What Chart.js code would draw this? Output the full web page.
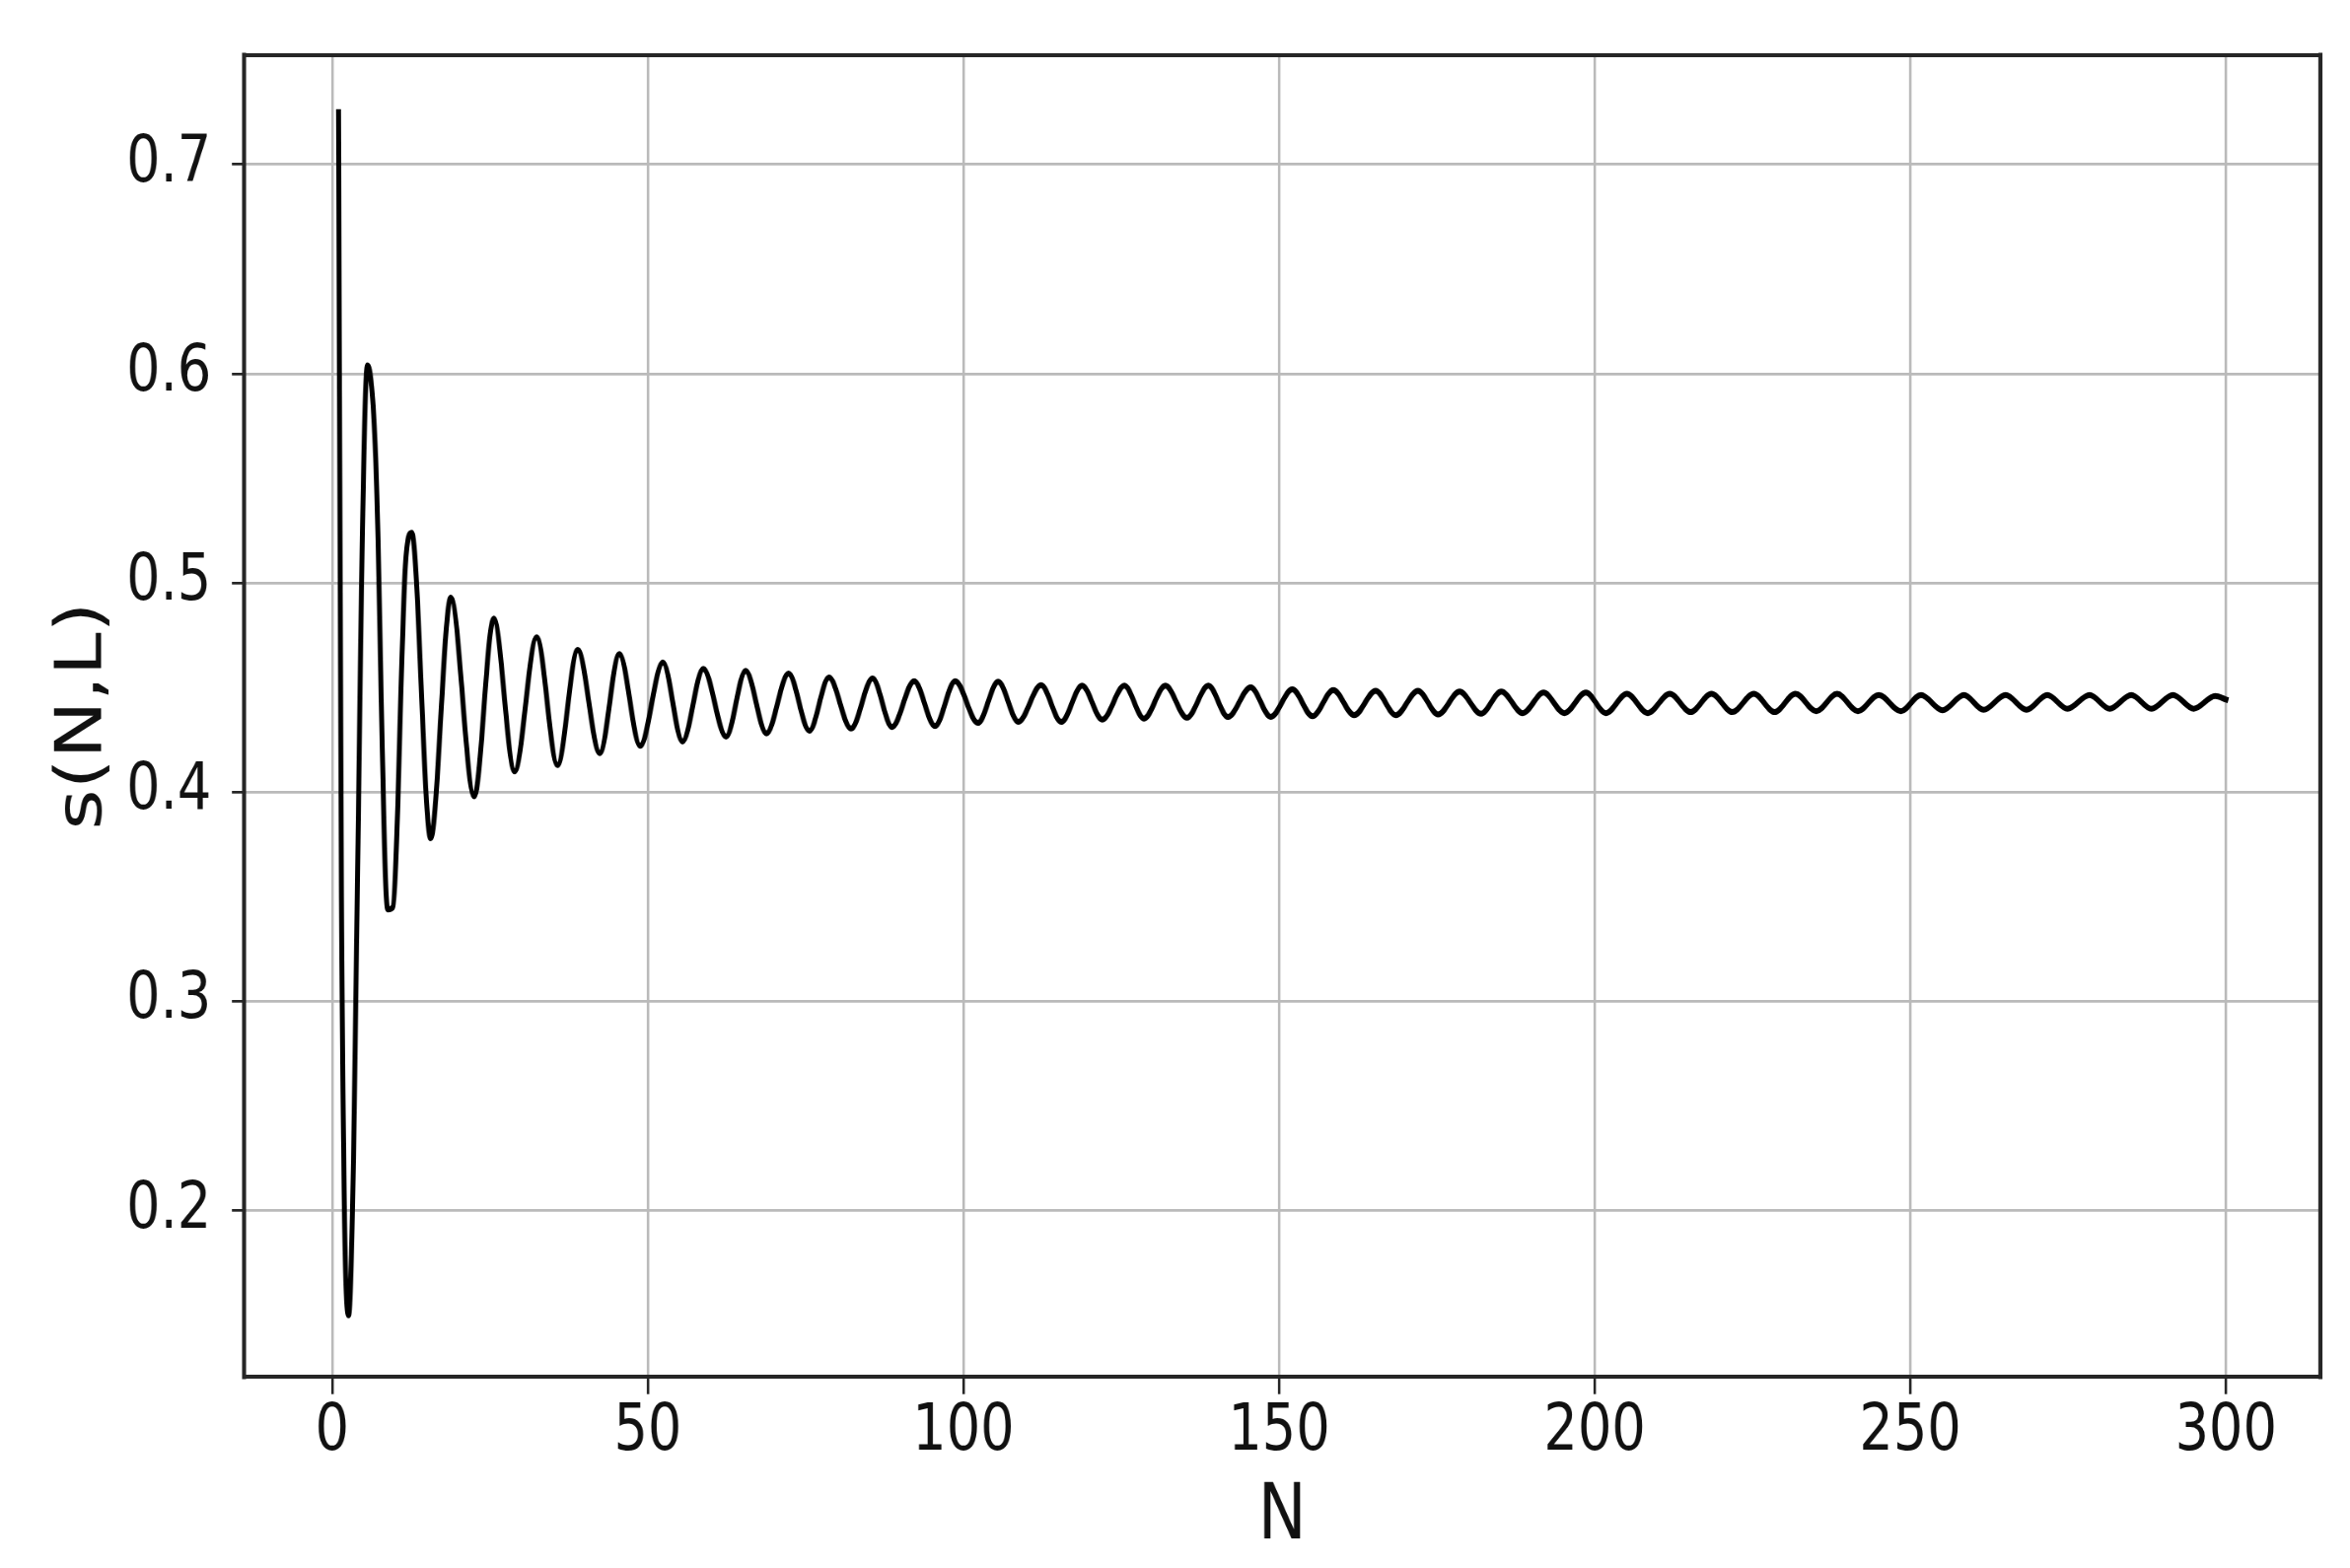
<!DOCTYPE html>
<html>
<head>
<meta charset="utf-8">
<script src="https://cdn.jsdelivr.net/npm/chart.js@4.4.1/dist/chart.umd.min.js"></script>
<style>
   html, body { margin: 0; padding: 0; background: #fff; overflow: hidden; }
   /* the source figure is stretched vertically, so draw wider and squeeze */
   #wrap { width: 2860px; height: 1590px; transform: scaleX(0.8333); transform-origin: 0 0; }
</style>
</head>
<body>
<div id="wrap"><canvas id="sChart"></canvas></div>
<script>
const xTicks = [0, 50, 100, 150, 200, 250, 300];
const yTicks = [0.2, 0.3, 0.4, 0.5, 0.6, 0.7];
const xLabel = 'N';
const yLabel = 's(N,L)';

// local maxima of the curve
const peakN = [5.6, 12.6, 18.8, 25.6, 32.4, 38.9, 45.5, 52.4, 58.8, 65.5, 72.3, 78.7, 85.6, 92.2, 98.7,
   105.5, 112.3, 118.8, 125.5, 132.0, 138.8, 145.5, 152.1, 158.6, 165.3, 172.0, 178.6, 185.2, 191.9, 198.6,
   205.1, 211.9, 218.5, 225.2, 231.8, 238.4, 245.0, 251.7, 258.5, 265.1, 271.7, 278.4, 285.0, 291.6, 298.3];
const peakS = [0.604, 0.524, 0.493, 0.483, 0.474, 0.468, 0.466, 0.462, 0.459, 0.458, 0.4567, 0.4548, 0.4543, 0.4531, 0.4531,
   0.4528, 0.4512, 0.4509, 0.4509, 0.4509, 0.4509, 0.4501, 0.4492, 0.4488, 0.4485, 0.4485, 0.4481, 0.4481, 0.4476, 0.4476,
   0.4471, 0.4471, 0.4471, 0.4471, 0.4471, 0.4470, 0.4465, 0.4465, 0.4465, 0.4465, 0.4465, 0.4465, 0.4465, 0.4465, 0.4460];

// local minima of the curve
const troughN = [2.6, 8.8, 15.6, 22.5, 28.9, 35.7, 42.4, 48.8, 55.5, 62.4, 68.8, 75.6, 82.2, 88.7, 95.5,
   102.3, 108.7, 115.5, 122.0, 128.6, 135.4, 141.9, 148.7, 155.3, 161.9, 168.5, 175.2, 182.0, 188.6, 195.2,
   201.8, 208.4, 215.2, 221.8, 228.5, 235.1, 241.7, 248.5, 255.1, 261.6, 268.4, 274.9, 281.6, 288.2, 294.9];
const troughS = [0.150, 0.344, 0.378, 0.398, 0.410, 0.413, 0.4187, 0.4222, 0.4242, 0.4265, 0.4281, 0.4294, 0.4304, 0.4312, 0.4316,
   0.4331, 0.4336, 0.4336, 0.4347, 0.4352, 0.4356, 0.4360, 0.4360, 0.4363, 0.4368, 0.4368, 0.4372, 0.4375, 0.4378, 0.4378,
   0.4378, 0.4378, 0.4383, 0.4383, 0.4383, 0.4387, 0.4387, 0.4387, 0.4392, 0.4394, 0.4394, 0.4399, 0.4399, 0.4399, 0.4399];

// start of the curve, shoulders on the first swings, last point
const extraN = [1.0, 1.48, 6.9, 9.6, 11.6, 300];
const extraS = [0.725, 0.35, 0.56, 0.345, 0.508, 0.4443];

function buildPoints() {
   let pts = [];
   peakN.forEach((n, i) => pts.push({ x: n, y: peakS[i] }));
   troughN.forEach((n, i) => pts.push({ x: n, y: troughS[i] }));
   extraN.forEach((n, i) => pts.push({ x: n, y: extraS[i] }));
   pts.sort((a, b) => a.x - b.x);
   return pts;
}

const frame = {
   id: 'frame',
   afterDraw(chart) {
      const { ctx, chartArea: a } = chart;
      ctx.save();
      ctx.strokeStyle = '#262626';
      ctx.lineCap = 'square';
      ctx.lineWidth = 4;
      ctx.beginPath();
      ctx.moveTo(a.left, a.top); ctx.lineTo(a.right, a.top);
      ctx.moveTo(a.left, a.bottom); ctx.lineTo(a.right, a.bottom);
      ctx.stroke();
      ctx.lineWidth = 5;
      ctx.beginPath();
      ctx.moveTo(a.left, a.top); ctx.lineTo(a.left, a.bottom);
      ctx.moveTo(a.right, a.top); ctx.lineTo(a.right, a.bottom);
      ctx.stroke();
      ctx.restore();
   }
};

Chart.defaults.font.family = "'DejaVu Sans', sans-serif";
Chart.defaults.color = '#111';

const ctx = document.getElementById('sChart').getContext('2d');
new Chart(ctx, {
   type: 'line',
   data: {
      datasets: [{
         data: buildPoints(),
         borderColor: '#000',
         borderWidth: 6,
         borderCapStyle: 'square',
         borderJoinStyle: 'round',
         cubicInterpolationMode: 'monotone',
         pointRadius: 0,
         fill: false
      }]
   },
   options: {
      responsive: true,
      maintainAspectRatio: false,
      devicePixelRatio: 1,
      animation: false,
      layout: { padding: { left: 0, right: 36.4, top: 56, bottom: 0 } },
      plugins: { legend: { display: false }, tooltip: { enabled: false } },
      scales: {
         x: {
            type: 'linear',
            min: -13.95,
            max: 314.95,
            afterBuildTicks: s => { s.ticks = xTicks.map(v => ({ value: v })); },
            afterFit: s => { s.height = 194; s.paddingLeft = 0; s.paddingRight = 0; },
            ticks: {
               font: { size: 65 },
               padding: 0,
               maxRotation: 0,
               autoSkip: false,
               callback: v => String(v)
            },
            grid: { color: '#bababa', lineWidth: 3.2, tickLength: 17.7, tickColor: '#262626', tickWidth: 3.2 },
            border: { display: false },
            title: { display: true, text: xLabel, font: { size: 79 }, padding: { top: 0, bottom: 3 } }
         },
         y: {
            type: 'linear',
            min: 0.1207,
            max: 0.7522,
            afterBuildTicks: s => { s.ticks = yTicks.map(v => ({ value: v })); },
            afterFit: s => { s.width = 297; s.paddingTop = 0; s.paddingBottom = 0; },
            ticks: {
               font: { size: 65 },
               padding: 25,
               autoSkip: false,
               callback: v => v.toFixed(1)
            },
            grid: { color: '#bababa', lineWidth: 2.7, tickLength: 14.8, tickColor: '#262626', tickWidth: 2.7 },
            border: { display: false },
            title: { display: true, text: yLabel, font: { size: 79 }, padding: { top: 55, bottom: 0 } }
         }
      }
   },
   plugins: [frame]
});
</script>
</body>
</html>
